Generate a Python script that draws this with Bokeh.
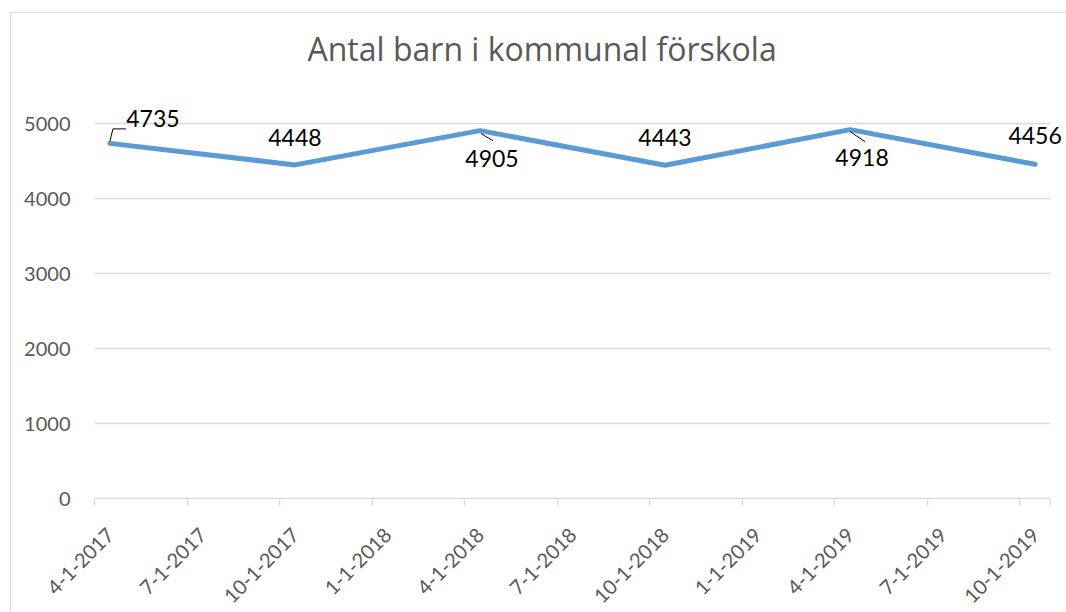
import math
import pandas as pd
from bokeh.plotting import figure
from bokeh.models import Range1d, FixedTicker, ColumnDataSource, LabelSet, LinearAxis
from bokeh.core.properties import value
from bokeh.embed import file_html
from bokeh.resources import INLINE

# ---------------- data ----------------
title_text = "Antal barn i kommunal förskola"
dates = ["2017-04-01", "2017-10-01", "2018-04-01", "2018-10-01", "2019-04-01", "2019-10-01"]
values = [4735, 4448, 4905, 4443, 4918, 4456]
tick_labels = ["4-1-2017", "7-1-2017", "10-1-2017", "1-1-2018", "4-1-2018", "7-1-2018",
               "10-1-2018", "1-1-2019", "4-1-2019", "7-1-2019", "10-1-2019"]
y_ticks = [0, 1000, 2000, 3000, 4000, 5000]

# ---------------- layout / style constants ----------------
W, H = 1066, 612
PLOT_LEFT, PLOT_RIGHT = 94, 1050   # pixel columns of the plot area
PLOT_TOP, PLOT_BOTTOM = 123, 498   # pixel rows of the top gridline and of the 0 line
FRAME_TOP = 72            # frame starts above the top gridline (room for data labels)
FOOTROOM = 1              # extra frame room under the 0 line
HEADROOM = PLOT_TOP - FRAME_TOP
BL = PLOT_LEFT
BR = 0
BT = FRAME_TOP
BB = H - PLOT_BOTTOM - FOOTROOM
FONT = "Lato"
TITLE_FONT = "Open Sans"
GREY = "#595959"
LINE = "#d9d9d9"
BLUE = "#5B9BD5"

# data-label offsets in px (x right, y up)
label_dx = [43, 0, 12, 0, 12, 0]
label_dy = [16, 19, -36, 19, -36, 20]
# leader lines (px offsets from point, x right, y down)
leaders = {0: [(0, -2), (3, -14.5), (16, -14.5)],
           2: [(1, 3), (13, 10)],
           4: [(0, 2), (15, 12)]}
TICK_LABEL_SHIFT_PX = 16   # rotated tick labels sit right of their tick mark
TICK_LABEL_STANDOFF = 26

# ---------------- derived positions (Excel date axis, base unit = month) ----------------
start = pd.Timestamp("2017-04-01")


def month_index(ts):
    return (ts.year - start.year) * 12 + (ts.month - start.month)


pt_dates = pd.to_datetime(dates)
x_pts = [month_index(d) + 0.5 for d in pt_dates]
tick_dates = pd.to_datetime(tick_labels, format="%m-%d-%Y")
x_ticks = [month_index(d) for d in tick_dates]
x_end = x_ticks[-1] + 1
y_top = y_ticks[-1]

px_x = (PLOT_RIGHT - PLOT_LEFT) / x_end
px_y = (PLOT_BOTTOM - PLOT_TOP) / y_top
x_max = x_end + (W - BR - PLOT_RIGHT) / px_x
y_max = y_top + HEADROOM / px_y
y_min = -FOOTROOM / px_y

p = figure(width=W, height=H, x_range=Range1d(0, x_max), y_range=Range1d(y_min, y_max),
           output_backend="svg", toolbar_location=None,
           min_border_left=BL, min_border_right=BR, min_border_top=BT, min_border_bottom=BB)
p.outline_line_color = None
p.background_fill_color = "white"
p.border_fill_color = None
p.styles = {
    "background-color": "white",
    "background-image": "linear-gradient(#d9d9d9, #d9d9d9), linear-gradient(#d9d9d9, #d9d9d9)",
    "background-position": "10px 12px, 10px 12px",
    "background-size": "100% 1px, 1px 100%",
    "background-repeat": "no-repeat",
}

# title (its text box bottom sits standoff/2 above the frame)
p.title.text = title_text
p.title.text_font = TITLE_FONT
p.title.text_font_size = "32px"
p.title.text_font_style = "normal"
p.title.text_color = GREY
p.title.align = "left"
p.title.offset = 213
p.title.standoff = 6

# y axis
p.yaxis.ticker = FixedTicker(ticks=y_ticks)
p.yaxis.axis_line_color = None
p.yaxis.major_tick_line_color = None
p.yaxis.minor_tick_line_color = None
p.yaxis.major_label_text_font = FONT
p.yaxis.major_label_text_font_size = "20px"
p.yaxis.major_label_text_color = GREY
p.yaxis.major_label_standoff = 18

# x axis: tick marks only (axis line drawn as the 0 gridline)
p.xaxis.ticker = FixedTicker(ticks=x_ticks + [x_end])
p.xaxis.axis_line_color = None
p.xaxis.major_tick_line_color = LINE
p.xaxis.major_tick_line_width = 1.5
p.xaxis.major_tick_out = 6
p.xaxis.major_tick_in = 0
p.xaxis.minor_tick_line_color = None
p.xaxis.major_label_text_font_size = "0px"
p.xaxis.major_label_text_color = None
p.xaxis.major_label_standoff = 0

# second axis carrying the rotated date labels
shift = TICK_LABEL_SHIFT_PX / px_x
label_pos = [t + shift for t in x_ticks]
label_axis = LinearAxis(ticker=FixedTicker(ticks=label_pos),
                        major_label_overrides={pos: lab for pos, lab in zip(label_pos, tick_labels)},
                        axis_line_color=None, major_tick_line_color=None,
                        minor_tick_line_color=None, major_tick_out=0, major_tick_in=0,
                        major_label_orientation=math.pi / 4,
                        major_label_standoff=TICK_LABEL_STANDOFF,
                        major_label_text_font=FONT, major_label_text_font_size="20px",
                        major_label_text_color=GREY)
p.add_layout(label_axis, "below")

# horizontal gridlines (plot area only)
p.xgrid.visible = False
p.ygrid.visible = False
p.segment(x0=[0] * len(y_ticks), y0=y_ticks, x1=[x_end] * len(y_ticks), y1=y_ticks,
          line_color=LINE, line_width=1.5)

# series line
p.line(x_pts, values, line_color=BLUE, line_width=5, line_cap="round", line_join="round")

# leader lines
lx, ly = [], []
for i, offs in leaders.items():
    lx.append([x_pts[i] + dx / px_x for dx, dy in offs])
    ly.append([values[i] - dy / px_y for dx, dy in offs])
p.multi_line(lx, ly, line_color="black", line_width=1)

# data labels
src = ColumnDataSource(dict(x=x_pts, y=values, text=[str(v) for v in values],
                            dx=label_dx, dy=label_dy))
p.add_layout(LabelSet(x="x", y="y", text="text", x_offset="dx", y_offset="dy", source=src,
                      text_align="center", text_baseline="alphabetic",
                      text_font=value(FONT), text_font_size="23px", text_color="black"))

open("out.html", "w").write(file_html(p, INLINE))
